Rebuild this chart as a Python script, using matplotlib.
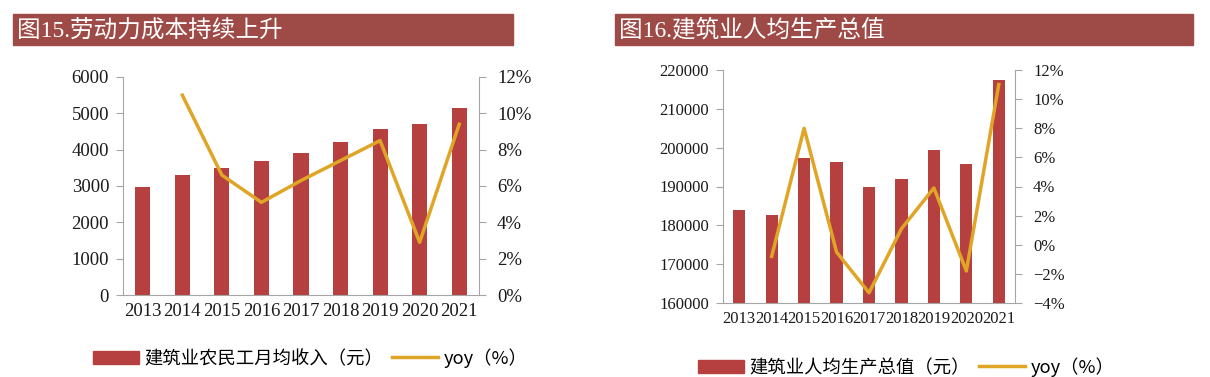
import matplotlib.pyplot as plt
from matplotlib.patches import Rectangle, Patch
from matplotlib.lines import Line2D
from matplotlib.ticker import PercentFormatter

years = ["2013", "2014", "2015", "2016", "2017", "2018", "2019", "2020", "2021"]

# 图15 建筑业农民工月均收入（元）及同比
income = [2986, 3292, 3508, 3687, 3918, 4209, 4567, 4699, 5141]
income_yoy = [None, 11.0, 6.6, 5.1, 6.3, 7.4, 8.5, 2.9, 9.4]

# 图16 建筑业人均生产总值（元）及同比
output = [184000, 182700, 197400, 196200, 189800, 191900, 199400, 195800, 217300]
output_yoy = [None, -0.8, 8.0, -0.5, -3.3, 1.1, 3.9, -1.8, 11.0]

BAR = "#B5403F"
LINE = "#E0A526"
HEAD = "#9E4A47"
GREY = "#A6A6A6"
SERIF = ["Liberation Serif", "Noto Sans CJK SC"]
SANS = ["Noto Sans CJK SC", "DejaVu Sans"]
W, H = 1210, 377

fig = plt.figure(figsize=(12.1, 3.77), dpi=100)


def header(x0, x1, text):
    fig.patches.append(Rectangle((x0 / W, 1 - 45 / H), (x1 - x0) / W, 31 / H,
                                 transform=fig.transFigure, color=HEAD, zorder=0))
    fig.text((x0 + 4) / W, 1 - 30 / H, text, color="white", fontsize=17,
             family=SERIF, va="center", ha="left")


def panel(rect, vals, yoy, ylim, ylim2, step, step2, fs):
    ax = fig.add_axes(rect)
    x = range(len(years))
    ax.bar(x, vals, width=0.38, color=BAR, zorder=2)
    ax.set_xlim(-0.5, len(years) - 0.5)
    ax.set_ylim(*ylim)
    ax.set_yticks(range(ylim[0], ylim[1] + 1, step))
    ax.set_xticks(list(x))
    ax.set_xticklabels(years)
    ax2 = ax.twinx()
    xs = [i for i, v in zip(x, yoy) if v is not None]
    ys = [v for v in yoy if v is not None]
    ax2.plot(xs, ys, color=LINE, lw=2.5, zorder=3)
    ax2.set_ylim(*ylim2)
    ax2.set_yticks(range(ylim2[0], ylim2[1] + 1, step2))
    ax2.yaxis.set_major_formatter(PercentFormatter(decimals=0))
    for a in (ax, ax2):
        for s in a.spines.values():
            s.set_visible(False)
        a.tick_params(colors=GREY, labelcolor="#1a1a1a", labelsize=fs, length=5)
        for t in a.get_xticklabels() + a.get_yticklabels():
            t.set_family(SERIF)
    ax.spines["left"].set_visible(True)
    ax.spines["left"].set_color(GREY)
    ax.spines["bottom"].set_visible(True)
    ax.spines["bottom"].set_color(GREY)
    ax2.spines["right"].set_visible(True)
    ax2.spines["right"].set_color(GREY)
    ax.tick_params(axis="x", length=0, pad=6)
    ax.tick_params(axis="y", pad=5)
    ax2.tick_params(axis="y", pad=8)
    return ax, ax2


header(13, 513, "图15.劳动力成本持续上升")
header(615, 1193, "图16.建筑业人均生产总值")

panel([123 / W, 1 - 295 / H, (479 - 123) / W, (295 - 77) / H],
      income, income_yoy, (0, 6000), (0, 12), 1000, 2, 13.5)
panel([723 / W, 1 - 303 / H, (1015 - 723) / W, (303 - 70) / H],
      output, output_yoy, (160000, 220000), (-4, 12), 10000, 2, 12)


def legend(x, y, name):
    handles = [Patch(color=BAR), Line2D([], [], color=LINE, lw=2.5)]
    fig.legend(handles, [name, "yoy（%）"], loc="center left",
               bbox_to_anchor=(x / W, 1 - y / H), ncol=2, frameon=False,
               borderpad=0, borderaxespad=0, handlelength=2.5, handleheight=0.7,
               handletextpad=0.3, columnspacing=0.5,
               prop={"family": SANS, "size": 13.2})


legend(93, 358, "建筑业农民工月均收入（元）")
legend(698, 367, "建筑业人均生产总值（元）")

fig.savefig("out.png", dpi=100)
